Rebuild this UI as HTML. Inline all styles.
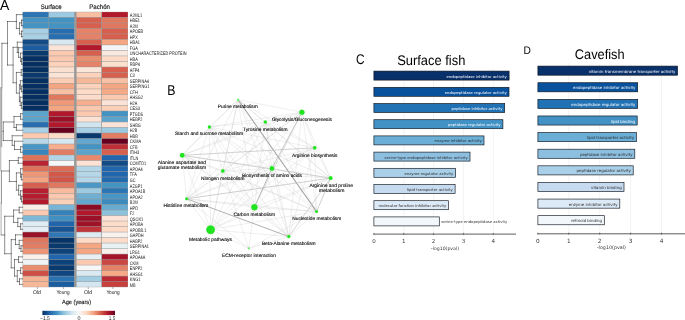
<!DOCTYPE html>
<html lang="en"><head><meta charset="utf-8"><title>Figure</title>
<style>html,body{margin:0;padding:0;background:#fff}svg{display:block}text{text-rendering:geometricPrecision}</style></head>
<body>
<svg width="685" height="320" viewBox="0 0 685 320">
<defs><filter id="nf" x="0" y="0" width="100%" height="100%" filterUnits="userSpaceOnUse" color-interpolation-filters="sRGB"><feOffset dx="0" dy="0"/></filter></defs>
<rect width="685" height="320" fill="#fff"/>
<g filter="url(#nf)">
<g id="heatmap">
<rect x="22.6" y="11.80" width="105.3" height="275.40" fill="#9a9a9a"/>
<rect x="22.80" y="12.15" width="25.65" height="5.00" fill="#2c75b4"/>
<rect x="48.85" y="12.15" width="25.25" height="5.00" fill="#9ccae1"/>
<rect x="76.60" y="12.15" width="24.65" height="5.00" fill="#f8bea2"/>
<rect x="102.00" y="12.15" width="25.80" height="5.00" fill="#b2182b"/>
<rect x="22.80" y="17.65" width="25.65" height="5.00" fill="#4393c3"/>
<rect x="48.85" y="17.65" width="25.25" height="5.00" fill="#4393c3"/>
<rect x="76.60" y="17.65" width="24.65" height="5.00" fill="#d6604d"/>
<rect x="102.00" y="17.65" width="25.80" height="5.00" fill="#e0775f"/>
<rect x="22.80" y="23.16" width="25.65" height="5.00" fill="#4393c3"/>
<rect x="48.85" y="23.16" width="25.25" height="5.00" fill="#4393c3"/>
<rect x="76.60" y="23.16" width="24.65" height="5.00" fill="#d6604d"/>
<rect x="102.00" y="23.16" width="25.80" height="5.00" fill="#e0775f"/>
<rect x="22.80" y="28.66" width="25.65" height="5.00" fill="#a7d0e4"/>
<rect x="48.85" y="28.66" width="25.25" height="5.00" fill="#276eb0"/>
<rect x="76.60" y="28.66" width="24.65" height="5.00" fill="#e58268"/>
<rect x="102.00" y="28.66" width="25.80" height="5.00" fill="#d6604d"/>
<rect x="22.80" y="34.17" width="25.65" height="5.00" fill="#a7d0e4"/>
<rect x="48.85" y="34.17" width="25.25" height="5.00" fill="#276eb0"/>
<rect x="76.60" y="34.17" width="24.65" height="5.00" fill="#e58268"/>
<rect x="102.00" y="34.17" width="25.80" height="5.00" fill="#d6604d"/>
<rect x="22.80" y="39.67" width="25.65" height="5.00" fill="#134b86"/>
<rect x="48.85" y="39.67" width="25.25" height="5.00" fill="#d7e8f1"/>
<rect x="76.60" y="39.67" width="24.65" height="5.00" fill="#d6604d"/>
<rect x="102.00" y="39.67" width="25.80" height="5.00" fill="#f4a582"/>
<rect x="22.80" y="45.17" width="25.65" height="5.00" fill="#1c5da0"/>
<rect x="48.85" y="45.17" width="25.25" height="5.00" fill="#fbe4d7"/>
<rect x="76.60" y="45.17" width="24.65" height="5.00" fill="#b2182b"/>
<rect x="102.00" y="45.17" width="25.80" height="5.00" fill="#f3f5f6"/>
<rect x="22.80" y="50.68" width="25.65" height="5.00" fill="#0a396e"/>
<rect x="48.85" y="50.68" width="25.25" height="5.00" fill="#fac9b0"/>
<rect x="76.60" y="50.68" width="24.65" height="5.00" fill="#d6604d"/>
<rect x="102.00" y="50.68" width="25.80" height="5.00" fill="#fae9df"/>
<rect x="22.80" y="56.18" width="25.65" height="5.00" fill="#053061"/>
<rect x="48.85" y="56.18" width="25.25" height="5.00" fill="#fac9b0"/>
<rect x="76.60" y="56.18" width="24.65" height="5.00" fill="#ea8e70"/>
<rect x="102.00" y="56.18" width="25.80" height="5.00" fill="#fddbc7"/>
<rect x="22.80" y="61.69" width="25.65" height="5.00" fill="#053061"/>
<rect x="48.85" y="61.69" width="25.25" height="5.00" fill="#fcd2bb"/>
<rect x="76.60" y="61.69" width="24.65" height="5.00" fill="#e58268"/>
<rect x="102.00" y="61.69" width="25.80" height="5.00" fill="#fce0cf"/>
<rect x="22.80" y="67.19" width="25.65" height="5.00" fill="#053061"/>
<rect x="48.85" y="67.19" width="25.25" height="5.00" fill="#fce0cf"/>
<rect x="76.60" y="67.19" width="24.65" height="5.00" fill="#fbe6da"/>
<rect x="102.00" y="67.19" width="25.80" height="5.00" fill="#d6604d"/>
<rect x="22.80" y="72.69" width="25.65" height="5.00" fill="#0a396e"/>
<rect x="48.85" y="72.69" width="25.25" height="5.00" fill="#fbe4d7"/>
<rect x="76.60" y="72.69" width="24.65" height="5.00" fill="#fcd2bb"/>
<rect x="102.00" y="72.69" width="25.80" height="5.00" fill="#d6604d"/>
<rect x="22.80" y="78.20" width="25.65" height="5.00" fill="#053061"/>
<rect x="48.85" y="78.20" width="25.25" height="5.00" fill="#fbcdb5"/>
<rect x="76.60" y="78.20" width="24.65" height="5.00" fill="#f7b799"/>
<rect x="102.00" y="78.20" width="25.80" height="5.00" fill="#f8c0a4"/>
<rect x="22.80" y="83.70" width="25.65" height="5.00" fill="#053061"/>
<rect x="48.85" y="83.70" width="25.25" height="5.00" fill="#f4a582"/>
<rect x="76.60" y="83.70" width="24.65" height="5.00" fill="#fcd2bb"/>
<rect x="102.00" y="83.70" width="25.80" height="5.00" fill="#f4a582"/>
<rect x="22.80" y="89.21" width="25.65" height="5.00" fill="#053061"/>
<rect x="48.85" y="89.21" width="25.25" height="5.00" fill="#f8c0a4"/>
<rect x="76.60" y="89.21" width="24.65" height="5.00" fill="#fddbc7"/>
<rect x="102.00" y="89.21" width="25.80" height="5.00" fill="#f5a987"/>
<rect x="22.80" y="94.71" width="25.65" height="5.00" fill="#053061"/>
<rect x="48.85" y="94.71" width="25.25" height="5.00" fill="#e0775f"/>
<rect x="76.60" y="94.71" width="24.65" height="5.00" fill="#fdddca"/>
<rect x="102.00" y="94.71" width="25.80" height="5.00" fill="#fac9b0"/>
<rect x="22.80" y="100.21" width="25.65" height="5.00" fill="#053061"/>
<rect x="48.85" y="100.21" width="25.25" height="5.00" fill="#ef9979"/>
<rect x="76.60" y="100.21" width="24.65" height="5.00" fill="#f6ae8e"/>
<rect x="102.00" y="100.21" width="25.80" height="5.00" fill="#fbe4d7"/>
<rect x="22.80" y="105.72" width="25.65" height="5.00" fill="#053061"/>
<rect x="48.85" y="105.72" width="25.25" height="5.00" fill="#f4a582"/>
<rect x="76.60" y="105.72" width="24.65" height="5.00" fill="#fac9b0"/>
<rect x="102.00" y="105.72" width="25.80" height="5.00" fill="#fbd0b9"/>
<rect x="22.80" y="111.22" width="25.65" height="5.00" fill="#5da4cc"/>
<rect x="48.85" y="111.22" width="25.25" height="5.00" fill="#b2182b"/>
<rect x="76.60" y="111.22" width="24.65" height="5.00" fill="#fac9b0"/>
<rect x="102.00" y="111.22" width="25.80" height="5.00" fill="#4393c3"/>
<rect x="22.80" y="116.73" width="25.65" height="5.00" fill="#5da4cc"/>
<rect x="48.85" y="116.73" width="25.25" height="5.00" fill="#991027"/>
<rect x="76.60" y="116.73" width="24.65" height="5.00" fill="#fbe2d4"/>
<rect x="102.00" y="116.73" width="25.80" height="5.00" fill="#5da4cc"/>
<rect x="22.80" y="122.23" width="25.65" height="5.00" fill="#276eb0"/>
<rect x="48.85" y="122.23" width="25.25" height="5.00" fill="#b2182b"/>
<rect x="76.60" y="122.23" width="24.65" height="5.00" fill="#d1e5f0"/>
<rect x="102.00" y="122.23" width="25.80" height="5.00" fill="#fbe4d7"/>
<rect x="22.80" y="127.73" width="25.65" height="5.00" fill="#a7d0e4"/>
<rect x="48.85" y="127.73" width="25.25" height="5.00" fill="#67001f"/>
<rect x="76.60" y="127.73" width="24.65" height="5.00" fill="#a7d0e4"/>
<rect x="102.00" y="127.73" width="25.80" height="5.00" fill="#9ccae1"/>
<rect x="22.80" y="133.24" width="25.65" height="5.00" fill="#fac9b0"/>
<rect x="48.85" y="133.24" width="25.25" height="5.00" fill="#fddbc7"/>
<rect x="76.60" y="133.24" width="24.65" height="5.00" fill="#0a396e"/>
<rect x="102.00" y="133.24" width="25.80" height="5.00" fill="#e27c62"/>
<rect x="22.80" y="138.74" width="25.65" height="5.00" fill="#b8d8e9"/>
<rect x="48.85" y="138.74" width="25.25" height="5.00" fill="#d5e7f1"/>
<rect x="76.60" y="138.74" width="24.65" height="5.00" fill="#63a7ce"/>
<rect x="102.00" y="138.74" width="25.80" height="5.00" fill="#67001f"/>
<rect x="22.80" y="144.25" width="25.65" height="5.00" fill="#4896c5"/>
<rect x="48.85" y="144.25" width="25.25" height="5.00" fill="#f6ae8e"/>
<rect x="76.60" y="144.25" width="24.65" height="5.00" fill="#4393c3"/>
<rect x="102.00" y="144.25" width="25.80" height="5.00" fill="#be3036"/>
<rect x="22.80" y="149.75" width="25.65" height="5.00" fill="#3884bb"/>
<rect x="48.85" y="149.75" width="25.25" height="5.00" fill="#e27c62"/>
<rect x="76.60" y="149.75" width="24.65" height="5.00" fill="#5da4cc"/>
<rect x="102.00" y="149.75" width="25.80" height="5.00" fill="#d6604d"/>
<rect x="22.80" y="155.25" width="25.65" height="5.00" fill="#de725b"/>
<rect x="48.85" y="155.25" width="25.25" height="5.00" fill="#b2d5e7"/>
<rect x="76.60" y="155.25" width="24.65" height="5.00" fill="#e8896d"/>
<rect x="102.00" y="155.25" width="25.80" height="5.00" fill="#2166ac"/>
<rect x="22.80" y="160.76" width="25.65" height="5.00" fill="#b82431"/>
<rect x="48.85" y="160.76" width="25.25" height="5.00" fill="#f4f6f7"/>
<rect x="76.60" y="160.76" width="24.65" height="5.00" fill="#fbe2d4"/>
<rect x="102.00" y="160.76" width="25.80" height="5.00" fill="#134b86"/>
<rect x="22.80" y="166.26" width="25.65" height="5.00" fill="#de725b"/>
<rect x="48.85" y="166.26" width="25.25" height="5.00" fill="#db6c56"/>
<rect x="76.60" y="166.26" width="24.65" height="5.00" fill="#b2d5e7"/>
<rect x="102.00" y="166.26" width="25.80" height="5.00" fill="#2166ac"/>
<rect x="22.80" y="171.77" width="25.65" height="5.00" fill="#ee9777"/>
<rect x="48.85" y="171.77" width="25.25" height="5.00" fill="#d2594a"/>
<rect x="76.60" y="171.77" width="24.65" height="5.00" fill="#b6d7e8"/>
<rect x="102.00" y="171.77" width="25.80" height="5.00" fill="#2166ac"/>
<rect x="22.80" y="177.27" width="25.65" height="5.00" fill="#f4a582"/>
<rect x="48.85" y="177.27" width="25.25" height="5.00" fill="#d05447"/>
<rect x="76.60" y="177.27" width="24.65" height="5.00" fill="#b6d7e8"/>
<rect x="102.00" y="177.27" width="25.80" height="5.00" fill="#2369ae"/>
<rect x="22.80" y="182.77" width="25.65" height="5.00" fill="#d6604d"/>
<rect x="48.85" y="182.77" width="25.25" height="5.00" fill="#e0775f"/>
<rect x="76.60" y="182.77" width="24.65" height="5.00" fill="#4b98c6"/>
<rect x="102.00" y="182.77" width="25.80" height="5.00" fill="#4393c3"/>
<rect x="22.80" y="188.28" width="25.65" height="5.00" fill="#b61f2e"/>
<rect x="48.85" y="188.28" width="25.25" height="5.00" fill="#f8bb9e"/>
<rect x="76.60" y="188.28" width="24.65" height="5.00" fill="#9ccae1"/>
<rect x="102.00" y="188.28" width="25.80" height="5.00" fill="#2c75b4"/>
<rect x="22.80" y="193.78" width="25.65" height="5.00" fill="#b41d2d"/>
<rect x="48.85" y="193.78" width="25.25" height="5.00" fill="#fac9b0"/>
<rect x="76.60" y="193.78" width="24.65" height="5.00" fill="#70afd2"/>
<rect x="102.00" y="193.78" width="25.80" height="5.00" fill="#4896c5"/>
<rect x="22.80" y="199.29" width="25.65" height="5.00" fill="#b2182b"/>
<rect x="48.85" y="199.29" width="25.25" height="5.00" fill="#fbd0b9"/>
<rect x="76.60" y="199.29" width="24.65" height="5.00" fill="#63a7ce"/>
<rect x="102.00" y="199.29" width="25.80" height="5.00" fill="#3c8abe"/>
<rect x="22.80" y="204.79" width="25.65" height="5.00" fill="#f9eee7"/>
<rect x="48.85" y="204.79" width="25.25" height="5.00" fill="#78b4d5"/>
<rect x="76.60" y="204.79" width="24.65" height="5.00" fill="#8c0c25"/>
<rect x="102.00" y="204.79" width="25.80" height="5.00" fill="#68aad0"/>
<rect x="22.80" y="210.29" width="25.65" height="5.00" fill="#fac9b0"/>
<rect x="48.85" y="210.29" width="25.25" height="5.00" fill="#3581ba"/>
<rect x="76.60" y="210.29" width="24.65" height="5.00" fill="#b2182b"/>
<rect x="102.00" y="210.29" width="25.80" height="5.00" fill="#8dc2dc"/>
<rect x="22.80" y="215.80" width="25.65" height="5.00" fill="#7db8d7"/>
<rect x="48.85" y="215.80" width="25.25" height="5.00" fill="#4190c1"/>
<rect x="76.60" y="215.80" width="24.65" height="5.00" fill="#991027"/>
<rect x="102.00" y="215.80" width="25.80" height="5.00" fill="#fbe4d7"/>
<rect x="22.80" y="221.30" width="25.65" height="5.00" fill="#e0ecf3"/>
<rect x="48.85" y="221.30" width="25.25" height="5.00" fill="#2166ac"/>
<rect x="76.60" y="221.30" width="24.65" height="5.00" fill="#a01228"/>
<rect x="102.00" y="221.30" width="25.80" height="5.00" fill="#fdddca"/>
<rect x="22.80" y="226.81" width="25.65" height="5.00" fill="#e4eef4"/>
<rect x="48.85" y="226.81" width="25.25" height="5.00" fill="#185493"/>
<rect x="76.60" y="226.81" width="24.65" height="5.00" fill="#c03539"/>
<rect x="102.00" y="226.81" width="25.80" height="5.00" fill="#fddbc7"/>
<rect x="22.80" y="232.31" width="25.65" height="5.00" fill="#991027"/>
<rect x="48.85" y="232.31" width="25.25" height="5.00" fill="#2f78b5"/>
<rect x="76.60" y="232.31" width="24.65" height="5.00" fill="#deebf2"/>
<rect x="102.00" y="232.31" width="25.80" height="5.00" fill="#f8f2ef"/>
<rect x="22.80" y="237.81" width="25.65" height="5.00" fill="#e0775f"/>
<rect x="48.85" y="237.81" width="25.25" height="5.00" fill="#073466"/>
<rect x="76.60" y="237.81" width="24.65" height="5.00" fill="#fddbc7"/>
<rect x="102.00" y="237.81" width="25.80" height="5.00" fill="#fdddca"/>
<rect x="22.80" y="243.32" width="25.65" height="5.00" fill="#e27c62"/>
<rect x="48.85" y="243.32" width="25.25" height="5.00" fill="#0a396e"/>
<rect x="76.60" y="243.32" width="24.65" height="5.00" fill="#f4a582"/>
<rect x="102.00" y="243.32" width="25.80" height="5.00" fill="#eaf1f5"/>
<rect x="22.80" y="248.82" width="25.65" height="5.00" fill="#ed9576"/>
<rect x="48.85" y="248.82" width="25.25" height="5.00" fill="#0e427a"/>
<rect x="76.60" y="248.82" width="24.65" height="5.00" fill="#f4a582"/>
<rect x="102.00" y="248.82" width="25.80" height="5.00" fill="#f8f0ec"/>
<rect x="22.80" y="254.33" width="25.65" height="5.00" fill="#f9f0ea"/>
<rect x="48.85" y="254.33" width="25.25" height="5.00" fill="#2166ac"/>
<rect x="76.60" y="254.33" width="24.65" height="5.00" fill="#e8f0f4"/>
<rect x="102.00" y="254.33" width="25.80" height="5.00" fill="#a61429"/>
<rect x="22.80" y="259.83" width="25.65" height="5.00" fill="#f1f4f6"/>
<rect x="48.85" y="259.83" width="25.25" height="5.00" fill="#0e427a"/>
<rect x="76.60" y="259.83" width="24.65" height="5.00" fill="#fac9b0"/>
<rect x="102.00" y="259.83" width="25.80" height="5.00" fill="#ca4842"/>
<rect x="22.80" y="265.33" width="25.65" height="5.00" fill="#ea8e70"/>
<rect x="48.85" y="265.33" width="25.25" height="5.00" fill="#0a396e"/>
<rect x="76.60" y="265.33" width="24.65" height="5.00" fill="#f7f7f7"/>
<rect x="102.00" y="265.33" width="25.80" height="5.00" fill="#e48066"/>
<rect x="22.80" y="270.84" width="25.65" height="5.00" fill="#ce4f45"/>
<rect x="48.85" y="270.84" width="25.25" height="5.00" fill="#114781"/>
<rect x="76.60" y="270.84" width="24.65" height="5.00" fill="#dbeaf2"/>
<rect x="102.00" y="270.84" width="25.80" height="5.00" fill="#f5a987"/>
<rect x="22.80" y="276.34" width="25.65" height="5.00" fill="#f6b394"/>
<rect x="48.85" y="276.34" width="25.25" height="5.00" fill="#2a72b2"/>
<rect x="76.60" y="276.34" width="24.65" height="5.00" fill="#a1cce2"/>
<rect x="102.00" y="276.34" width="25.80" height="5.00" fill="#bc2b34"/>
<rect x="22.80" y="281.85" width="25.65" height="5.00" fill="#f7b799"/>
<rect x="48.85" y="281.85" width="25.25" height="5.00" fill="#1c5da0"/>
<rect x="76.60" y="281.85" width="24.65" height="5.00" fill="#d4e6f0"/>
<rect x="102.00" y="281.85" width="25.80" height="5.00" fill="#c6413e"/>
</g>
<g font-family="'Liberation Sans', sans-serif" font-size="5.1" fill="#111">
<text x="129.8" y="16.50" textLength="12.26" lengthAdjust="spacingAndGlyphs">A2ML1</text>
<text x="129.8" y="22.02" textLength="10.11" lengthAdjust="spacingAndGlyphs">HBE1</text>
<text x="129.8" y="27.53" textLength="7.96" lengthAdjust="spacingAndGlyphs">A2M</text>
<text x="129.8" y="33.05" textLength="13.34" lengthAdjust="spacingAndGlyphs">APOEB</text>
<text x="129.8" y="38.57" textLength="7.96" lengthAdjust="spacingAndGlyphs">HPX</text>
<text x="129.8" y="44.08" textLength="10.11" lengthAdjust="spacingAndGlyphs">HBA1</text>
<text x="129.8" y="49.60" textLength="7.96" lengthAdjust="spacingAndGlyphs">FGA</text>
<text x="129.8" y="55.11" textLength="56.76" lengthAdjust="spacingAndGlyphs">UNCHARACTERIZED PROTEIN</text>
<text x="129.8" y="60.63" textLength="7.96" lengthAdjust="spacingAndGlyphs">HBA</text>
<text x="129.8" y="66.15" textLength="10.11" lengthAdjust="spacingAndGlyphs">RBP4</text>
<text x="129.8" y="71.66" textLength="9.68" lengthAdjust="spacingAndGlyphs">AFP4</text>
<text x="129.8" y="77.18" textLength="4.95" lengthAdjust="spacingAndGlyphs">C3</text>
<text x="129.8" y="82.69" textLength="19.14" lengthAdjust="spacingAndGlyphs">SERPINA4</text>
<text x="129.8" y="88.21" textLength="19.57" lengthAdjust="spacingAndGlyphs">SERPING1</text>
<text x="129.8" y="93.73" textLength="7.95" lengthAdjust="spacingAndGlyphs">CFH</text>
<text x="129.8" y="99.24" textLength="13.12" lengthAdjust="spacingAndGlyphs">AHSG2</text>
<text x="129.8" y="104.76" textLength="7.53" lengthAdjust="spacingAndGlyphs">H2A</text>
<text x="129.8" y="110.27" textLength="10.11" lengthAdjust="spacingAndGlyphs">CES3</text>
<text x="129.8" y="115.79" textLength="13.33" lengthAdjust="spacingAndGlyphs">PTGDS</text>
<text x="129.8" y="121.31" textLength="12.69" lengthAdjust="spacingAndGlyphs">HEBP2</text>
<text x="129.8" y="126.82" textLength="10.97" lengthAdjust="spacingAndGlyphs">SHBG</text>
<text x="129.8" y="132.34" textLength="7.53" lengthAdjust="spacingAndGlyphs">H2B</text>
<text x="129.8" y="137.85" textLength="7.96" lengthAdjust="spacingAndGlyphs">HBB</text>
<text x="129.8" y="143.37" textLength="11.18" lengthAdjust="spacingAndGlyphs">CKMA</text>
<text x="129.8" y="148.89" textLength="7.74" lengthAdjust="spacingAndGlyphs">CFB</text>
<text x="129.8" y="154.40" textLength="9.46" lengthAdjust="spacingAndGlyphs">ITIH3</text>
<text x="129.8" y="159.92" textLength="8.39" lengthAdjust="spacingAndGlyphs">ITLN</text>
<text x="129.8" y="165.43" textLength="16.34" lengthAdjust="spacingAndGlyphs">COMTD1</text>
<text x="129.8" y="170.95" textLength="12.91" lengthAdjust="spacingAndGlyphs">APOA4</text>
<text x="129.8" y="176.47" textLength="7.10" lengthAdjust="spacingAndGlyphs">TFA</text>
<text x="129.8" y="181.98" textLength="5.80" lengthAdjust="spacingAndGlyphs">GC</text>
<text x="129.8" y="187.50" textLength="12.69" lengthAdjust="spacingAndGlyphs">AZGP1</text>
<text x="129.8" y="193.01" textLength="15.49" lengthAdjust="spacingAndGlyphs">APOA1B</text>
<text x="129.8" y="198.53" textLength="12.91" lengthAdjust="spacingAndGlyphs">APOA2</text>
<text x="129.8" y="204.05" textLength="7.96" lengthAdjust="spacingAndGlyphs">B2M</text>
<text x="129.8" y="209.56" textLength="8.17" lengthAdjust="spacingAndGlyphs">HPD</text>
<text x="129.8" y="215.08" textLength="4.52" lengthAdjust="spacingAndGlyphs">F2</text>
<text x="129.8" y="220.59" textLength="13.34" lengthAdjust="spacingAndGlyphs">QSOX1</text>
<text x="129.8" y="226.11" textLength="13.34" lengthAdjust="spacingAndGlyphs">APOBA</text>
<text x="129.8" y="231.63" textLength="16.56" lengthAdjust="spacingAndGlyphs">APOBB.1</text>
<text x="129.8" y="237.14" textLength="13.76" lengthAdjust="spacingAndGlyphs">GAPDH</text>
<text x="129.8" y="242.66" textLength="12.69" lengthAdjust="spacingAndGlyphs">HABP2</text>
<text x="129.8" y="248.17" textLength="19.14" lengthAdjust="spacingAndGlyphs">SERPINA1</text>
<text x="129.8" y="253.69" textLength="10.11" lengthAdjust="spacingAndGlyphs">LRG1</text>
<text x="129.8" y="259.21" textLength="15.49" lengthAdjust="spacingAndGlyphs">APOA4A</text>
<text x="129.8" y="264.72" textLength="8.60" lengthAdjust="spacingAndGlyphs">CKM</text>
<text x="129.8" y="270.24" textLength="12.69" lengthAdjust="spacingAndGlyphs">ENPP2</text>
<text x="129.8" y="275.75" textLength="13.12" lengthAdjust="spacingAndGlyphs">AHSG1</text>
<text x="129.8" y="281.27" textLength="10.54" lengthAdjust="spacingAndGlyphs">KNG1</text>
<text x="129.8" y="286.79" textLength="5.80" lengthAdjust="spacingAndGlyphs">MB</text>
</g>
<g font-family="'Liberation Sans', sans-serif" fill="#1a1a1a">
<text x="0.1" y="10.1" font-size="14.4" textLength="9.3" lengthAdjust="spacingAndGlyphs" fill="#000">A</text>
<text x="40.7" y="9.4" font-size="6.6" textLength="21" lengthAdjust="spacingAndGlyphs" stroke="#1a1a1a" stroke-width="0.18">Surface</text>
<text x="89.2" y="9.4" font-size="6.6" textLength="20.8" lengthAdjust="spacingAndGlyphs" stroke="#1a1a1a" stroke-width="0.18">Pachón</text>
<text x="33.1" y="293.8" font-size="5.4" textLength="7.8" lengthAdjust="spacingAndGlyphs">Old</text>
<text x="56.4" y="293.8" font-size="5.4" textLength="13.1" lengthAdjust="spacingAndGlyphs">Young</text>
<text x="84.1" y="293.8" font-size="5.4" textLength="7.9" lengthAdjust="spacingAndGlyphs">Old</text>
<text x="106.4" y="293.8" font-size="5.4" textLength="13.2" lengthAdjust="spacingAndGlyphs">Young</text>
<text x="62" y="304.4" font-size="6" textLength="29" lengthAdjust="spacingAndGlyphs" stroke="#1a1a1a" stroke-width="0.15">Age (years)</text>
<text x="40" y="320.2" font-size="5.4" textLength="9.9" lengthAdjust="spacingAndGlyphs">−1.5</text>
<text x="77.6" y="320.2" font-size="5.4">0</text>
<text x="108.8" y="320.2" font-size="5.4" textLength="6.4" lengthAdjust="spacingAndGlyphs">1.5</text>
</g>
<line x1="37.4" y1="287.1" x2="37.4" y2="289" stroke="#333" stroke-width="0.4"/>
<line x1="63.4" y1="287.1" x2="63.4" y2="289" stroke="#333" stroke-width="0.4"/>
<line x1="88.2" y1="287.1" x2="88.2" y2="289" stroke="#333" stroke-width="0.4"/>
<line x1="112.9" y1="287.1" x2="112.9" y2="289" stroke="#333" stroke-width="0.4"/>
<defs><linearGradient id="cb" x1="0" x2="1" y1="0" y2="0">
<stop offset="0%" stop-color="#053061"/>
<stop offset="10%" stop-color="#2166ac"/>
<stop offset="20%" stop-color="#4393c3"/>
<stop offset="30%" stop-color="#92c5de"/>
<stop offset="40%" stop-color="#d1e5f0"/>
<stop offset="50%" stop-color="#f7f7f7"/>
<stop offset="60%" stop-color="#fddbc7"/>
<stop offset="70%" stop-color="#f4a582"/>
<stop offset="80%" stop-color="#d6604d"/>
<stop offset="90%" stop-color="#b2182b"/>
<stop offset="100%" stop-color="#67001f"/>
</linearGradient></defs>
<rect x="42.4" y="310.8" width="72.6" height="4.3" fill="url(#cb)"/>
<g id="dendro" stroke="#1c1c1c" stroke-width="0.5" stroke-linecap="square" fill="none">
<path d="M21.50 20.16L22.70 20.16M21.50 25.66L22.70 25.66M21.50 20.16L21.50 25.66M21.50 31.16L22.70 31.16M21.50 36.67L22.70 36.67M21.50 31.16L21.50 36.67M19.50 22.91L21.50 22.91M19.50 33.92L21.50 33.92M19.50 22.91L19.50 33.92M16.40 14.65L22.70 14.65M16.40 28.41L19.50 28.41M16.40 14.65L16.40 28.41M21.60 58.68L22.70 58.68M21.60 64.19L22.70 64.19M21.60 58.68L21.60 64.19M20.60 53.18L22.70 53.18M20.60 61.44L21.60 61.44M20.60 53.18L20.60 61.44M18.60 47.68L22.70 47.68M18.60 57.31L20.60 57.31M18.60 47.68L18.60 57.31M17.30 42.17L22.70 42.17M17.30 52.49L18.60 52.49M17.30 42.17L17.30 52.49M21.20 69.69L22.70 69.69M21.20 75.20L22.70 75.20M21.20 69.69L21.20 75.20M21.40 86.20L22.70 86.20M21.40 91.71L22.70 91.71M21.40 86.20L21.40 91.71M20.40 80.70L22.70 80.70M20.40 88.96L21.40 88.96M20.40 80.70L20.40 88.96M21.40 102.72L22.70 102.72M21.40 108.22L22.70 108.22M21.40 102.72L21.40 108.22M20.20 97.21L22.70 97.21M20.20 105.47L21.40 105.47M20.20 97.21L20.20 105.47M19.40 84.83L20.40 84.83M19.40 101.34L20.20 101.34M19.40 84.83L19.40 101.34M16.40 72.44L21.20 72.44M16.40 93.08L19.40 93.08M16.40 72.44L16.40 93.08M13.10 47.33L17.30 47.33M13.10 82.76L16.40 82.76M13.10 47.33L13.10 82.76M7.50 21.53L16.40 21.53M7.50 65.05L13.10 65.05M7.50 21.53L7.50 65.05M20.60 113.72L22.70 113.72M20.60 119.23L22.70 119.23M20.60 113.72L20.60 119.23M16.40 124.73L22.70 124.73M16.40 130.24L22.70 130.24M16.40 124.73L16.40 130.24M14.00 116.48L20.60 116.48M14.00 127.48L16.40 127.48M14.00 116.48L14.00 127.48M20.60 146.75L22.70 146.75M20.60 152.25L22.70 152.25M20.60 146.75L20.60 152.25M14.50 141.24L22.70 141.24M14.50 149.50L20.60 149.50M14.50 141.24L14.50 149.50M12.20 135.74L22.70 135.74M12.20 145.37L14.50 145.37M12.20 135.74L12.20 145.37M3.30 121.98L14.00 121.98M3.30 140.56L12.20 140.56M3.30 121.98L3.30 140.56M18.30 157.76L22.70 157.76M18.30 163.26L22.70 163.26M18.30 157.76L18.30 163.26M21.40 174.27L22.70 174.27M21.40 179.77L22.70 179.77M21.40 174.27L21.40 179.77M20.60 168.76L22.70 168.76M20.60 177.02L21.40 177.02M20.60 168.76L20.60 177.02M21.40 196.28L22.70 196.28M21.40 201.79L22.70 201.79M21.40 196.28L21.40 201.79M20.50 190.78L22.70 190.78M20.50 199.04L21.40 199.04M20.50 190.78L20.50 199.04M18.60 185.28L22.70 185.28M18.60 194.91L20.50 194.91M18.60 185.28L18.60 194.91M16.40 172.89L20.60 172.89M16.40 190.09L18.60 190.09M16.40 172.89L16.40 190.09M9.40 160.51L18.30 160.51M9.40 181.49L16.40 181.49M9.40 160.51L9.40 181.49M19.20 207.29L22.70 207.29M19.20 212.80L22.70 212.80M19.20 207.29L19.20 212.80M20.60 223.80L22.70 223.80M20.60 229.31L22.70 229.31M20.60 223.80L20.60 229.31M17.80 218.30L22.70 218.30M17.80 226.56L20.60 226.56M17.80 218.30L17.80 226.56M13.60 210.04L19.20 210.04M13.60 222.43L17.80 222.43M13.60 210.04L13.60 222.43M21.00 245.82L22.70 245.82M21.00 251.32L22.70 251.32M21.00 245.82L21.00 251.32M19.20 240.32L22.70 240.32M19.20 248.57L21.00 248.57M19.20 240.32L19.20 248.57M15.50 234.81L22.70 234.81M15.50 244.44L19.20 244.44M15.50 234.81L15.50 244.44M18.50 256.83L22.70 256.83M18.50 262.33L22.70 262.33M18.50 256.83L18.50 262.33M20.60 267.84L22.70 267.84M20.60 273.34L22.70 273.34M20.60 267.84L20.60 273.34M19.50 278.84L22.70 278.84M19.50 284.35L22.70 284.35M19.50 278.84L19.50 284.35M17.30 270.59L20.60 270.59M17.30 281.60L19.50 281.60M17.30 270.59L17.30 281.60M14.50 259.58L18.50 259.58M14.50 276.09L17.30 276.09M14.50 259.58L14.50 276.09M11.25 239.63L15.50 239.63M11.25 267.84L14.50 267.84M11.25 239.63L11.25 267.84M4.70 216.24L13.60 216.24M4.70 253.73L11.25 253.73M4.70 216.24L4.70 253.73M1.90 43.29L7.50 43.29M1.90 43.29L1.90 88.00M1.60 131.27L3.30 131.27M1.40 171.00L9.40 171.00M1.40 234.98L4.70 234.98M1.40 171.00L1.40 203.00"/>
<path d="M1.1 203L1.1 234.98" stroke="#3a3a3a" stroke-width="0.42"/>
</g>
<rect x="0.2" y="87" width="2.0" height="60" fill="#a8a8a8"/>
<rect x="0" y="147" width="1.4" height="24" fill="#c4c4c4"/>
<g id="net" stroke-linecap="round">
<path d="M238.1 99.7L301.9 112.2M238.1 99.7L265.3 121.9M238.1 99.7L209.4 126.9M238.1 99.7L314.7 147.8M238.1 99.7L182.2 155.3M238.1 99.7L222.8 170.9M238.1 99.7L271.9 168.4M238.1 99.7L330.6 178.1M238.1 99.7L186.6 198.8M238.1 99.7L254.4 207.2M238.1 99.7L210.6 229.7M238.1 99.7L288.8 236.6M301.9 112.2L265.3 121.9M301.9 112.2L209.4 126.9M301.9 112.2L314.7 147.8M301.9 112.2L182.2 155.3M301.9 112.2L222.8 170.9M301.9 112.2L330.6 178.1M301.9 112.2L186.6 198.8M301.9 112.2L316.6 211.6M301.9 112.2L210.6 229.7M301.9 112.2L288.8 236.6M265.3 121.9L209.4 126.9M265.3 121.9L314.7 147.8M265.3 121.9L182.2 155.3M265.3 121.9L222.8 170.9M265.3 121.9L271.9 168.4M265.3 121.9L330.6 178.1M265.3 121.9L186.6 198.8M265.3 121.9L254.4 207.2M265.3 121.9L316.6 211.6M265.3 121.9L210.6 229.7M265.3 121.9L288.8 236.6M209.4 126.9L314.7 147.8M209.4 126.9L182.2 155.3M209.4 126.9L222.8 170.9M209.4 126.9L271.9 168.4M209.4 126.9L330.6 178.1M209.4 126.9L186.6 198.8M209.4 126.9L254.4 207.2M209.4 126.9L316.6 211.6M209.4 126.9L210.6 229.7M209.4 126.9L288.8 236.6M314.7 147.8L222.8 170.9M314.7 147.8L271.9 168.4M314.7 147.8L330.6 178.1M314.7 147.8L186.6 198.8M314.7 147.8L254.4 207.2M314.7 147.8L316.6 211.6M314.7 147.8L210.6 229.7M314.7 147.8L288.8 236.6M182.2 155.3L222.8 170.9M182.2 155.3L271.9 168.4M182.2 155.3L186.6 198.8M182.2 155.3L254.4 207.2M182.2 155.3L316.6 211.6M182.2 155.3L210.6 229.7M182.2 155.3L288.8 236.6M222.8 170.9L271.9 168.4M222.8 170.9L330.6 178.1M222.8 170.9L186.6 198.8M222.8 170.9L254.4 207.2M222.8 170.9L316.6 211.6M222.8 170.9L210.6 229.7M222.8 170.9L288.8 236.6M222.8 170.9L248.8 248.4M271.9 168.4L330.6 178.1M271.9 168.4L186.6 198.8M271.9 168.4L316.6 211.6M271.9 168.4L210.6 229.7M271.9 168.4L288.8 236.6M330.6 178.1L254.4 207.2M330.6 178.1L210.6 229.7M186.6 198.8L254.4 207.2M186.6 198.8L316.6 211.6M186.6 198.8L210.6 229.7M186.6 198.8L248.8 248.4M254.4 207.2L316.6 211.6M254.4 207.2L210.6 229.7M254.4 207.2L288.8 236.6M254.4 207.2L248.8 248.4M316.6 211.6L210.6 229.7M316.6 211.6L288.8 236.6M316.6 211.6L248.8 248.4M210.6 229.7L288.8 236.6M210.6 229.7L248.8 248.4M288.8 236.6L248.8 248.4" stroke="#c4c4c4" stroke-width="0.27" fill="none"/>
<line x1="238.1" y1="99.7" x2="316.6" y2="211.6" stroke="#a6a6a6" stroke-width="1.10"/>
<line x1="186.6" y1="198.8" x2="288.8" y2="236.6" stroke="#b0b0b0" stroke-width="1.00"/>
<line x1="186.6" y1="198.8" x2="330.6" y2="178.1" stroke="#bcbcbc" stroke-width="0.70"/>
<line x1="182.2" y1="155.3" x2="314.7" y2="147.8" stroke="#bebebe" stroke-width="0.70"/>
<line x1="182.2" y1="155.3" x2="330.6" y2="178.1" stroke="#c0c0c0" stroke-width="0.65"/>
<line x1="301.9" y1="112.2" x2="271.9" y2="168.4" stroke="#b8b8b8" stroke-width="0.75"/>
<line x1="254.4" y1="207.2" x2="271.9" y2="168.4" stroke="#b0b0b0" stroke-width="0.90"/>
<line x1="330.6" y1="178.1" x2="316.6" y2="211.6" stroke="#bababa" stroke-width="0.70"/>
<line x1="330.6" y1="178.1" x2="288.8" y2="236.6" stroke="#c0c0c0" stroke-width="0.65"/>
<line x1="301.9" y1="112.2" x2="254.4" y2="207.2" stroke="#c6c6c6" stroke-width="0.55"/>
<circle cx="238.1" cy="99.7" r="1.2" fill="#8af28a"/>
<circle cx="238.1" cy="99.7" r="1.0" fill="#6df06d"/>
<circle cx="301.9" cy="112.2" r="2.8" fill="#8af28a"/>
<circle cx="301.9" cy="112.2" r="2.5" fill="#1fe41f"/>
<circle cx="265.3" cy="121.9" r="1.8" fill="#8af28a"/>
<circle cx="265.3" cy="121.9" r="1.5" fill="#1fe41f"/>
<circle cx="209.4" cy="126.9" r="1.8" fill="#8af28a"/>
<circle cx="209.4" cy="126.9" r="1.5" fill="#1fe41f"/>
<circle cx="314.7" cy="147.8" r="1.9" fill="#8af28a"/>
<circle cx="314.7" cy="147.8" r="1.7" fill="#1fe41f"/>
<circle cx="182.2" cy="155.3" r="2.5" fill="#8af28a"/>
<circle cx="182.2" cy="155.3" r="2.2" fill="#1fe41f"/>
<circle cx="222.8" cy="170.9" r="1.9" fill="#8af28a"/>
<circle cx="222.8" cy="170.9" r="1.7" fill="#1fe41f"/>
<circle cx="271.9" cy="168.4" r="2.5" fill="#8af28a"/>
<circle cx="271.9" cy="168.4" r="2.2" fill="#1fe41f"/>
<circle cx="330.6" cy="178.1" r="2.1" fill="#8af28a"/>
<circle cx="330.6" cy="178.1" r="1.9" fill="#1fe41f"/>
<circle cx="186.6" cy="198.8" r="1.6" fill="#8af28a"/>
<circle cx="186.6" cy="198.8" r="1.4" fill="#1fe41f"/>
<circle cx="254.4" cy="207.2" r="3.2" fill="#8af28a"/>
<circle cx="254.4" cy="207.2" r="3.0" fill="#1fe41f"/>
<circle cx="316.6" cy="211.6" r="1.6" fill="#8af28a"/>
<circle cx="316.6" cy="211.6" r="1.4" fill="#1fe41f"/>
<circle cx="210.6" cy="229.7" r="4.5" fill="#8af28a"/>
<circle cx="210.6" cy="229.7" r="4.2" fill="#1fe41f"/>
<circle cx="288.8" cy="236.6" r="1.8" fill="#8af28a"/>
<circle cx="288.8" cy="236.6" r="1.5" fill="#1fe41f"/>
<circle cx="248.8" cy="248.4" r="1.1" fill="#8af28a"/>
<circle cx="248.8" cy="248.4" r="0.8" fill="#6df06d"/>
</g>
<g font-family="'Liberation Sans', sans-serif" font-size="4.8" fill="#000" stroke="#000" stroke-width="0.1">
<text x="217.8" y="108.2" textLength="40.0" lengthAdjust="spacingAndGlyphs">Purine metabolism</text>
<text x="271.9" y="121.4" textLength="60.0" lengthAdjust="spacingAndGlyphs">Glycolysis/Gluconeogenesis</text>
<text x="243.0" y="130.7" textLength="44.5" lengthAdjust="spacingAndGlyphs">Tyrosine metabolism</text>
<text x="175.0" y="135.1" textLength="68.0" lengthAdjust="spacingAndGlyphs">Starch and sucrose metabolism</text>
<text x="292.0" y="156.7" textLength="45.5" lengthAdjust="spacingAndGlyphs">Arginine biosynthesis</text>
<text x="157.8" y="164.0" textLength="48.2" lengthAdjust="spacingAndGlyphs">Alanine aspartate and</text>
<text x="157.8" y="168.6" textLength="48.2" lengthAdjust="spacingAndGlyphs">glutamate metabolism</text>
<text x="201.0" y="179.5" textLength="43.4" lengthAdjust="spacingAndGlyphs">Nitrogen metabolism</text>
<text x="242.0" y="176.7" textLength="60.0" lengthAdjust="spacingAndGlyphs">Biosynthesis of amino acids</text>
<text x="309.4" y="186.7" textLength="43.6" lengthAdjust="spacingAndGlyphs">Arginine and proline</text>
<text x="318.8" y="192.0" textLength="25.6" lengthAdjust="spacingAndGlyphs">metabolism</text>
<text x="163.4" y="207.3" textLength="45.0" lengthAdjust="spacingAndGlyphs">Histidine metabolism</text>
<text x="233.4" y="216.4" textLength="41.6" lengthAdjust="spacingAndGlyphs">Carbon metabolism</text>
<text x="292.2" y="220.1" textLength="49.1" lengthAdjust="spacingAndGlyphs">Nucleotide metabolism</text>
<text x="189.0" y="240.7" textLength="42.9" lengthAdjust="spacingAndGlyphs">Metabolic pathways</text>
<text x="261.9" y="245.1" textLength="53.7" lengthAdjust="spacingAndGlyphs">Beta-Alanine metabolism</text>
<text x="221.9" y="257.0" textLength="54.1" lengthAdjust="spacingAndGlyphs">ECM-receptor interaction</text>
</g>
<text x="167.2" y="95" font-family="'Liberation Sans', sans-serif" font-size="14.2" textLength="8.2" lengthAdjust="spacingAndGlyphs">B</text>
<g font-family="'DejaVu Sans', 'Liberation Sans', sans-serif">
<g>
<line x1="403.8" y1="68.6" x2="403.8" y2="234.1" stroke="#e6e6e6" stroke-width="0.5"/>
<line x1="433.6" y1="68.6" x2="433.6" y2="234.1" stroke="#e6e6e6" stroke-width="0.5"/>
<line x1="463.4" y1="68.6" x2="463.4" y2="234.1" stroke="#e6e6e6" stroke-width="0.5"/>
<line x1="493.3" y1="68.6" x2="493.3" y2="234.1" stroke="#e6e6e6" stroke-width="0.5"/>
<rect x="373.9" y="71.10" width="135.2" height="9.00" fill="#08306b" stroke="#10151c" stroke-width="0.65"/>
<text x="506.8" y="77.60" font-size="3.80" text-anchor="end" fill="#fff">endopeptidase inhibitor activity</text>
<rect x="373.9" y="87.30" width="135.1" height="9.00" fill="#08519c" stroke="#10151c" stroke-width="0.65"/>
<text x="506.7" y="93.80" font-size="3.80" text-anchor="end" fill="#fff">endopeptidase regulator activity</text>
<rect x="373.9" y="103.50" width="130.8" height="9.00" fill="#2171b5" stroke="#10151c" stroke-width="0.65"/>
<text x="502.4" y="110.00" font-size="3.80" text-anchor="end" fill="#fff">peptidase inhibitor activity</text>
<rect x="373.9" y="119.70" width="129.0" height="9.00" fill="#4292c6" stroke="#10151c" stroke-width="0.65"/>
<text x="500.6" y="126.20" font-size="3.80" text-anchor="end" fill="#fff">peptidase regulator activity</text>
<rect x="373.9" y="135.90" width="110.1" height="9.00" fill="#6baed6" stroke="#10151c" stroke-width="0.65"/>
<text x="481.7" y="142.40" font-size="3.80" text-anchor="end" fill="#2c2c2c">enzyme inhibitor activity</text>
<rect x="373.9" y="152.10" width="96.1" height="9.00" fill="#8dbfe0" stroke="#10151c" stroke-width="0.65"/>
<text x="467.7" y="158.60" font-size="3.80" text-anchor="end" fill="#2c2c2c">serine-type endopeptidase inhibitor activity</text>
<rect x="373.9" y="168.30" width="81.7" height="9.00" fill="#aacfe8" stroke="#10151c" stroke-width="0.65"/>
<text x="453.3" y="174.80" font-size="3.80" text-anchor="end" fill="#2c2c2c">enzyme regulator activity</text>
<rect x="373.9" y="184.50" width="81.2" height="9.00" fill="#c6dbef" stroke="#10151c" stroke-width="0.65"/>
<text x="452.8" y="191.00" font-size="3.80" text-anchor="end" fill="#2c2c2c">lipid transporter activity</text>
<rect x="373.9" y="200.70" width="74.6" height="9.00" fill="#dce9f6" stroke="#10151c" stroke-width="0.65"/>
<text x="446.2" y="207.20" font-size="3.80" text-anchor="end" fill="#2c2c2c">molecular function inhibitor activity</text>
<rect x="373.9" y="216.90" width="65.4" height="9.00" fill="#f2f7fc" stroke="#10151c" stroke-width="0.65"/>
<text x="441.2" y="223.40" font-size="3.80" fill="#333">serine-type endopeptidase activity</text>
<line x1="373.4" y1="234.1" x2="516.0" y2="234.1" stroke="#333" stroke-width="0.8"/>
<line x1="373.9" y1="232.8" x2="373.9" y2="235.1" stroke="#333" stroke-width="0.5"/>
<text x="373.9" y="243.3" font-size="5.55" text-anchor="middle" fill="#3a3a3a">0</text>
<line x1="403.8" y1="232.8" x2="403.8" y2="235.1" stroke="#333" stroke-width="0.5"/>
<text x="403.8" y="243.3" font-size="5.55" text-anchor="middle" fill="#3a3a3a">1</text>
<line x1="433.6" y1="232.8" x2="433.6" y2="235.1" stroke="#333" stroke-width="0.5"/>
<text x="433.6" y="243.3" font-size="5.55" text-anchor="middle" fill="#3a3a3a">2</text>
<line x1="463.4" y1="232.8" x2="463.4" y2="235.1" stroke="#333" stroke-width="0.5"/>
<text x="463.4" y="243.3" font-size="5.55" text-anchor="middle" fill="#3a3a3a">3</text>
<line x1="493.3" y1="232.8" x2="493.3" y2="235.1" stroke="#333" stroke-width="0.5"/>
<text x="493.3" y="243.3" font-size="5.55" text-anchor="middle" fill="#3a3a3a">4</text>
<text x="445.0" y="249.7" font-size="4.64" text-anchor="middle" fill="#3a3a3a">-log10(pval)</text>
</g>
<g>
<line x1="568.8" y1="63.6" x2="568.8" y2="233.8" stroke="#e6e6e6" stroke-width="0.5"/>
<line x1="599.7" y1="63.6" x2="599.7" y2="233.8" stroke="#e6e6e6" stroke-width="0.5"/>
<line x1="630.6" y1="63.6" x2="630.6" y2="233.8" stroke="#e6e6e6" stroke-width="0.5"/>
<line x1="661.5" y1="63.6" x2="661.5" y2="233.8" stroke="#e6e6e6" stroke-width="0.5"/>
<rect x="537.9" y="66.10" width="139.7" height="9.10" fill="#08306b" stroke="#10151c" stroke-width="0.65"/>
<text x="675.3" y="72.65" font-size="3.93" text-anchor="end" fill="#fff">vitamin transmembrane transporter activity</text>
<rect x="537.9" y="82.72" width="99.8" height="9.10" fill="#08519c" stroke="#10151c" stroke-width="0.65"/>
<text x="635.4" y="89.27" font-size="3.93" text-anchor="end" fill="#fff">endopeptidase inhibitor activity</text>
<rect x="537.9" y="99.34" width="99.8" height="9.10" fill="#2171b5" stroke="#10151c" stroke-width="0.65"/>
<text x="635.4" y="105.89" font-size="3.93" text-anchor="end" fill="#fff">endopeptidase regulator activity</text>
<rect x="537.9" y="115.96" width="99.3" height="9.10" fill="#4292c6" stroke="#10151c" stroke-width="0.65"/>
<text x="634.9" y="122.51" font-size="3.93" text-anchor="end" fill="#fff">lipid binding</text>
<rect x="537.9" y="132.58" width="98.5" height="9.10" fill="#6baed6" stroke="#10151c" stroke-width="0.65"/>
<text x="634.1" y="139.13" font-size="3.93" text-anchor="end" fill="#2c2c2c">lipid transporter activity</text>
<rect x="537.9" y="149.20" width="96.9" height="9.10" fill="#8dbfe0" stroke="#10151c" stroke-width="0.65"/>
<text x="632.5" y="155.75" font-size="3.93" text-anchor="end" fill="#2c2c2c">peptidase inhibitor activity</text>
<rect x="537.9" y="165.82" width="95.3" height="9.10" fill="#aacfe8" stroke="#10151c" stroke-width="0.65"/>
<text x="630.9" y="172.37" font-size="3.93" text-anchor="end" fill="#2c2c2c">peptidase regulator activity</text>
<rect x="537.9" y="182.44" width="86.1" height="9.10" fill="#c6dbef" stroke="#10151c" stroke-width="0.65"/>
<text x="621.7" y="188.99" font-size="3.93" text-anchor="end" fill="#2c2c2c">vitamin binding</text>
<rect x="537.9" y="199.06" width="81.9" height="9.10" fill="#dce9f6" stroke="#10151c" stroke-width="0.65"/>
<text x="617.5" y="205.61" font-size="3.93" text-anchor="end" fill="#2c2c2c">enzyme inhibitor activity</text>
<rect x="537.9" y="215.68" width="66.4" height="9.10" fill="#f2f7fc" stroke="#10151c" stroke-width="0.65"/>
<text x="602.0" y="222.23" font-size="3.93" text-anchor="end" fill="#2c2c2c">retinoid binding</text>
<line x1="537.4" y1="233.8" x2="686.0" y2="233.8" stroke="#333" stroke-width="0.8"/>
<line x1="537.9" y1="232.5" x2="537.9" y2="234.8" stroke="#333" stroke-width="0.5"/>
<text x="537.9" y="243.0" font-size="5.74" text-anchor="middle" fill="#3a3a3a">0</text>
<line x1="568.8" y1="232.5" x2="568.8" y2="234.8" stroke="#333" stroke-width="0.5"/>
<text x="568.8" y="243.0" font-size="5.74" text-anchor="middle" fill="#3a3a3a">1</text>
<line x1="599.7" y1="232.5" x2="599.7" y2="234.8" stroke="#333" stroke-width="0.5"/>
<text x="599.7" y="243.0" font-size="5.74" text-anchor="middle" fill="#3a3a3a">2</text>
<line x1="630.6" y1="232.5" x2="630.6" y2="234.8" stroke="#333" stroke-width="0.5"/>
<text x="630.6" y="243.0" font-size="5.74" text-anchor="middle" fill="#3a3a3a">3</text>
<line x1="661.5" y1="232.5" x2="661.5" y2="234.8" stroke="#333" stroke-width="0.5"/>
<text x="661.5" y="243.0" font-size="5.74" text-anchor="middle" fill="#3a3a3a">4</text>
<text x="611.4" y="249.4" font-size="4.80" text-anchor="middle" fill="#3a3a3a">-log10(pval)</text>
</g>
</g>
<g font-family="'Liberation Sans', sans-serif" fill="#000">
<text x="356.0" y="63.7" font-size="14" textLength="8.6" lengthAdjust="spacingAndGlyphs">C</text>
<text x="397.2" y="65" font-size="13.8" textLength="68.2" lengthAdjust="spacingAndGlyphs">Surface fish</text>
<text x="523.4" y="54.2" font-size="11" textLength="7.4" lengthAdjust="spacingAndGlyphs">D</text>
<text x="574.8" y="58.9" font-size="13.8" textLength="49.8" lengthAdjust="spacingAndGlyphs">Cavefish</text>
</g>
</g>
</svg>
</body></html>
